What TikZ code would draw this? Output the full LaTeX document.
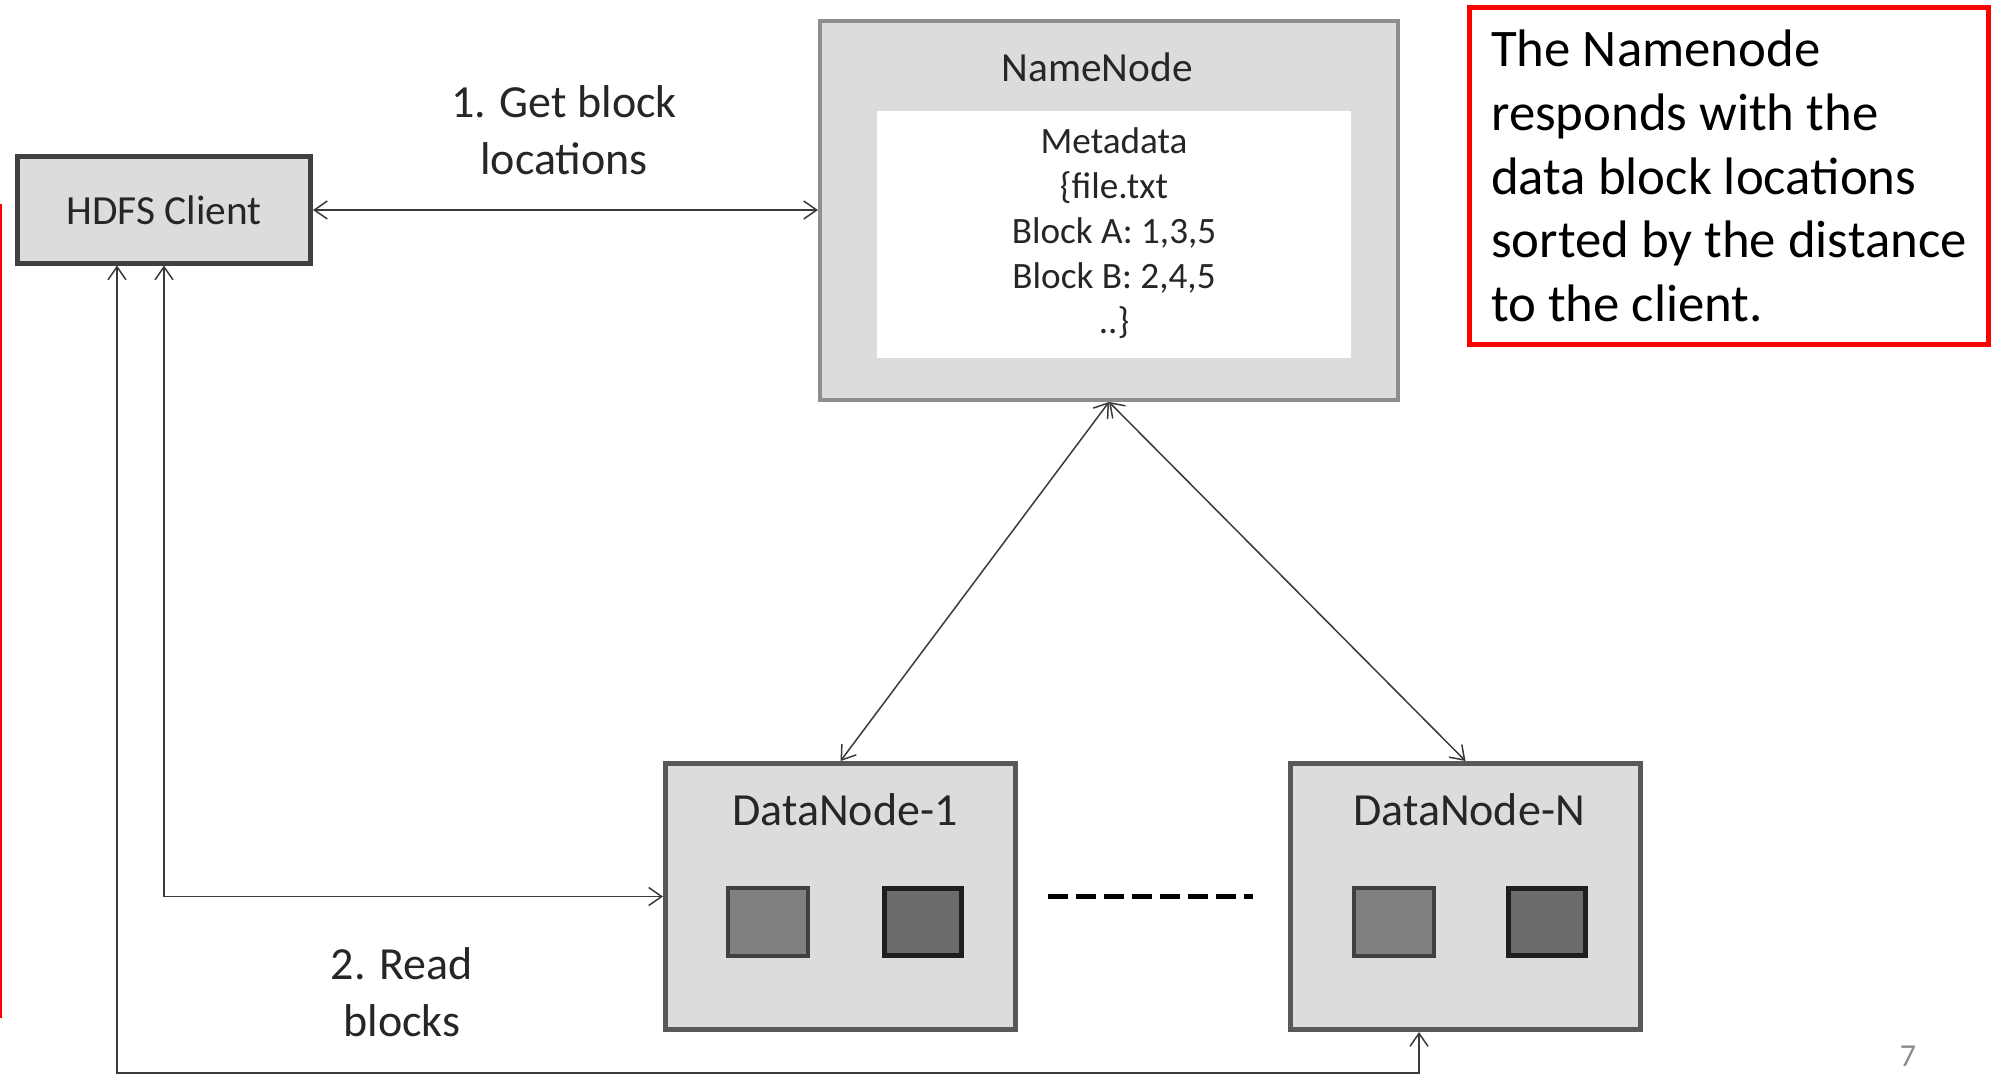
\documentclass[tikz,border=0pt]{standalone}
\usepackage{fontspec}
\setmainfont{Carlito}
\usetikzlibrary{arrows.meta,calc}
\definecolor{boxfill}{HTML}{DCDCDC}
\definecolor{clientedge}{HTML}{404040}
\definecolor{nameedge}{HTML}{8E8E90}
\definecolor{dataedge}{HTML}{595959}
\definecolor{blkA}{HTML}{808080}
\definecolor{blkAedge}{HTML}{404040}
\definecolor{blkB}{HTML}{6B6B6B}
\definecolor{blkBedge}{HTML}{1E1E1E}
\definecolor{ink}{HTML}{262626}
\definecolor{wire}{HTML}{3A3A3A}
\definecolor{alertred}{HTML}{FF0000}
\begin{document}
\begin{tikzpicture}[x=0.5pt,y=-0.5pt,
  box/.style={draw, fill=boxfill, inner sep=0pt, text=ink},
  blockA/.style={draw=blkAedge, fill=blkA, line width=2pt, minimum width=40pt, minimum height=34pt, inner sep=0pt},
  blockB/.style={draw=blkBedge, fill=blkB, line width=2.5pt, minimum width=38.5pt, minimum height=33.5pt, inner sep=0pt},
  conn/.style={draw=wire, line width=0.75pt,
    {Straight Barb[length=6.5pt,width=9pt]}-{Straight Barb[length=6.5pt,width=9pt]}},
  lbl/.style={text=ink, align=center, font=\fontsize{23}{28.5}\selectfont}]
\useasboundingbox (0,0) rectangle (1995,1075);

% client, name node and data nodes
\node[box, draw=clientedge, line width=2.5pt, minimum width=146.5pt, minimum height=53pt,
  font=\fontsize{20.7}{25}\selectfont] (client) at (164,210) {HDFS Client};

\node[box, draw=nameedge, line width=2pt, minimum width=289pt, minimum height=189.5pt] (nn) at (1109,210.5) {};
\node[text=ink, font=\fontsize{20.7}{25}\selectfont] (nntitle) at (1097,67) {NameNode};
\node[fill=white, inner sep=0pt, minimum width=237pt, minimum height=123.5pt] (meta) at (1114,234.5) {};
\node[text=ink, align=center, font=\fontsize{18.6}{22.5}\selectfont] (metatext) at (1114,233)
  {Metadata\\\{file.txt\\Block A: 1,3,5\\Block B: 2,4,5\\..\}};

\node[box, draw=dataedge, line width=2.5pt, minimum width=175pt, minimum height=133pt] (dn1) at (840.5,896.5) {};
\node[text=ink, font=\fontsize{23}{28}\selectfont] (dn1title) at (845,810) {DataNode-1};
\node[blockA] (dn1a) at (768,922) {};
\node[blockB] (dn1b) at (923,922) {};

\node[box, draw=dataedge, line width=2.5pt, minimum width=175pt, minimum height=133pt] (dnn) at (1465.5,896.5) {};
\node[text=ink, font=\fontsize{23}{28}\selectfont] (dnntitle) at (1469,810) {DataNode-N};
\node[blockA] (dnna) at (1393.5,922) {};
\node[blockB] (dnnb) at (1547,922) {};

% more data nodes in between
\draw[black, line width=2.5pt, dash pattern=on 10pt off 4pt]
  ($(dn1.east)+(30,0)$) -- ($(dnn.west)+(-35,0)$);

% note
\node[draw=alertred, line width=2.5pt, minimum width=259.5pt, minimum height=168.5pt,
  inner sep=0pt, align=left, font=\fontsize{26.4}{31.8}\selectfont] (note) at (1729,176)
  {The Namenode\\responds with the\\data block locations\\sorted by the distance\\to the client.};
\draw[alertred, line width=1.25pt] (1,204) -- (1,1018);

% step labels
\node[lbl] (step1) at (564,130) {1. Get block\\locations};
\node[lbl] (step2) at (402,992) {2. Read\\blocks};

% connectors
\draw[conn] (client.east) -- (client.east -| nn.west);
\draw[conn] (nn.south) -- (dn1.north);
\draw[conn] (nn.south) -- (dnn.north);
\draw[conn] (client.south) |- (dn1.west);
\coordinate (busL) at (117,1073);
\coordinate (busR) at (1419,1073);
\draw[conn] (busL |- client.south) -- (busL) -- (busR) -- (busR |- dnn.south);

% page number
\node[text=black!45, font=\fontsize{16}{19}\selectfont] (page) at (1908,1056) {7};
\end{tikzpicture}
\end{document}
